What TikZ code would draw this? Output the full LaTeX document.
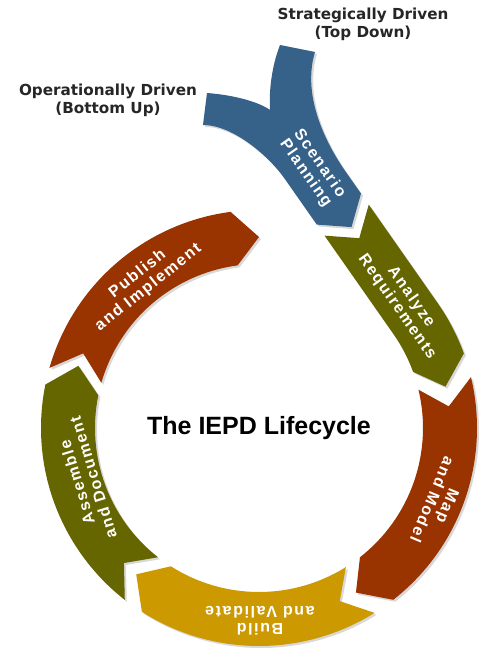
\documentclass[tikz,border=0pt]{standalone}
\usepackage{fontspec}
\usetikzlibrary{calc,shadows}
\newfontfamily\lblfont{DejaVu Sans}
\newfontfamily\segfont{Liberation Sans}[LetterSpace=10]
\newfontfamily\titlefont{Liberation Sans}
\definecolor{cblue}{RGB}{54,98,137}
\definecolor{colive}{RGB}{102,102,0}
\definecolor{cred}{RGB}{153,51,0}
\definecolor{cgold}{RGB}{204,153,0}
\def\Ri{164}
\def\Rm{191}
\def\Ro{218}
\newcommand\ringseg[5]{%
  \fill[#1, segshadow] (#2:\Ro) arc[start angle=#2, end angle=#4, radius=\Ro]
    -- ({#4-#5}:\Rm) -- (#4:\Ri) arc[start angle=#4, end angle=#2, radius=\Ri]
    -- ({#2-#3}:\Rm) -- cycle;}
\tikzset{
  segshadow/.style={drop shadow={shadow xshift=2pt,shadow yshift=-2pt,opacity=0.3}},
  seglabel/.style={text=white, align=center, inner sep=0pt,
    font=\segfont\bfseries\fontsize{16}{17}\selectfont},
  toplabel/.style={text=black!85, align=center, inner sep=0pt,
    font=\lblfont\bfseries\fontsize{15.2}{18}\selectfont},
  titlestyle/.style={text=black, inner sep=0pt,
    font=\titlefont\bfseries\fontsize{25}{30}\selectfont}
}
\begin{document}
\begin{tikzpicture}[x=1pt,y=1pt]
\fill[white] (-259,-222) rectangle (222,428);
\useasboundingbox (-259,-222) rectangle (222,428);
% ring segments
\ringseg{cred}{13.5}{7}{-52}{7.5}
\ringseg{cgold}{302}{7}{237.5}{7.5}
\ringseg{colive}{232}{7}{168.5}{7.5}
\ringseg{cred}{164}{7}{97.5}{7.5}
% analyze requirements
\fill[colive, segshadow] ($(35:\Ro)+(125:120)$) -- (35:\Ro)
  arc[start angle=35,end angle=20,radius=\Ro] -- (12.5:\Rm) -- (20:\Ri)
  arc[start angle=20,end angle=35,radius=\Ri] -- ($(35:\Ri)+(125:120)$)
  -- ($(35:\Rm)+(125:98)$) -- cycle;
% scenario planning (Y)
\fill[cblue, segshadow] ($(35:\Rm)+(125:111.5)$) -- ($(35:\Ro)+(125:133.5)$)
  -- ($(35:\Ro)+(125:160)$) .. controls ($(35:\Ro)+(125:190)$) and (42,330) .. (56,376)
  -- (21,383) .. controls (12,360) and (10,335) .. (11,318)
  .. controls (0,326) and (-25,333) .. (-52,335) -- (-56,303)
  .. controls (-25,303) and ($(35:\Ri)+(125:215)$) .. ($(35:\Ri)+(125:190)$)
  -- ($(35:\Ri)+(125:133.5)$) -- cycle;
% labels
\node[seglabel, rotate=-55] (scen) at (53.5,259.5) {Scenario\\Planning};
\node[seglabel, rotate=-55] (anal) at (145,126) {Analyze\\Requirements};
\node[seglabel, rotate=-113] (mapm) at (181,-75) {Map\\and Model};
\node[seglabel, rotate=180] (build) at (1,-193) {Build\\and Validate};
\node[seglabel, rotate=107] (asm) at (-174,-52) {Assemble\\and Document};
\node[seglabel, rotate=38.5] (pub) at (-116,147) {Publish\\and Implement};
\node[titlestyle] (ttl) at (0,0) {The IEPD Lifecycle};
\node[toplabel] (strat) at (104,404) {Strategically Driven\\(Top Down)};
\node[toplabel] (oper) at (-151,328) {Operationally Driven\\(Bottom Up)};
\end{tikzpicture}
\end{document}
